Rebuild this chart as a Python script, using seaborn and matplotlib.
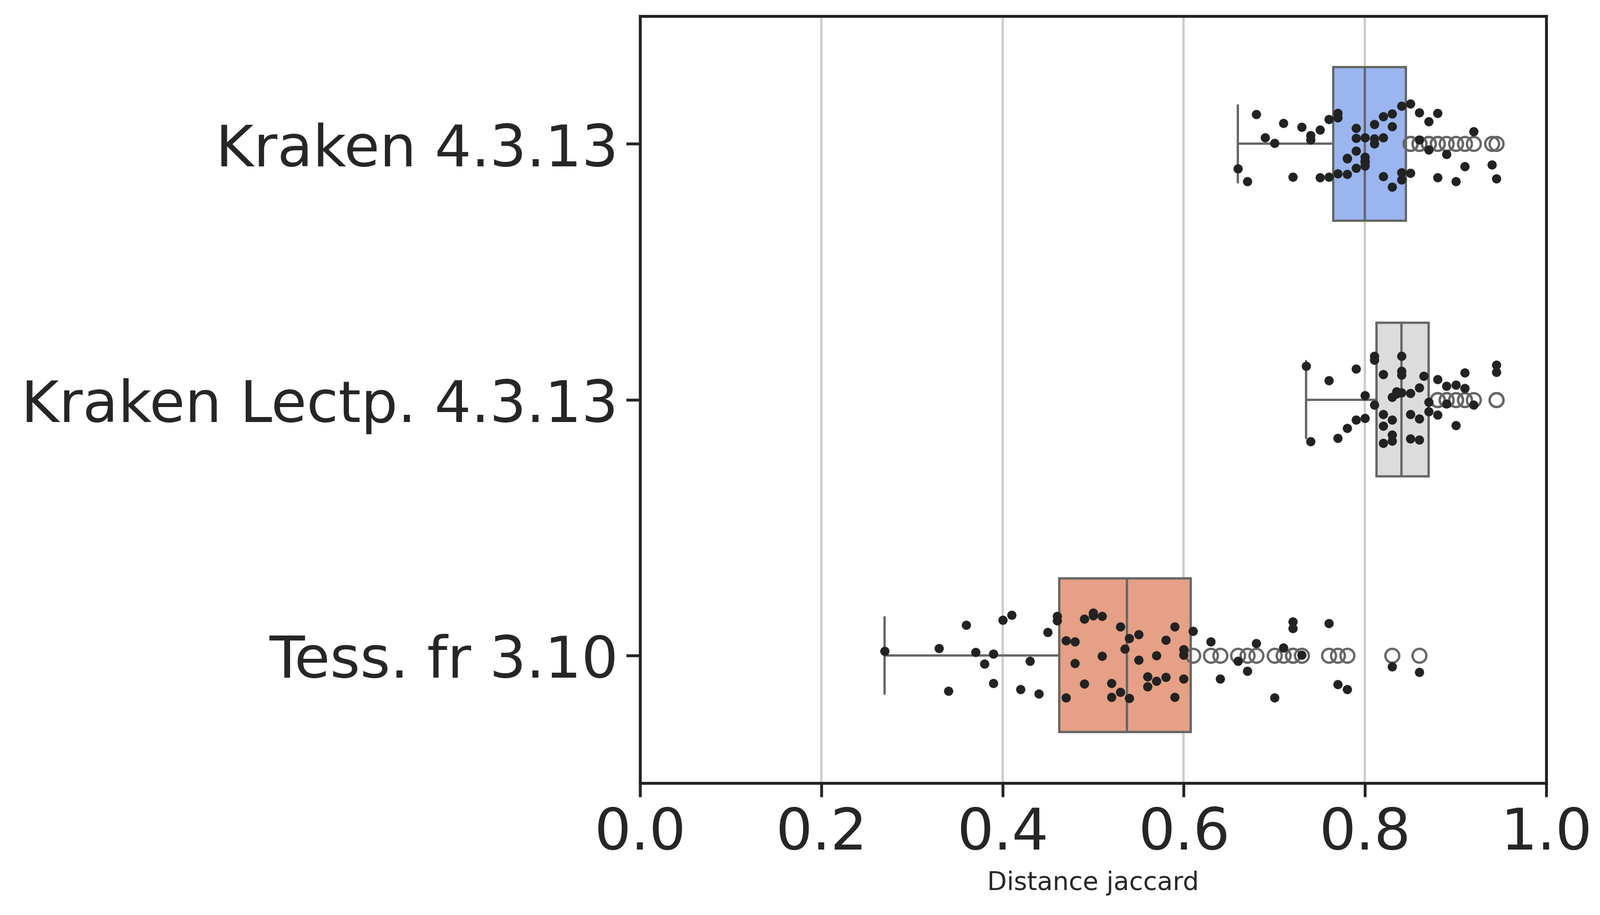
import matplotlib
matplotlib.use("Agg")
import matplotlib.pyplot as plt
import seaborn as sns
import pandas as pd

categories = ["Kraken 4.3.13", "Kraken Lectp. 4.3.13", "Tess. fr 3.10"]
kraken = [0.66, 0.67, 0.68, 0.69, 0.70, 0.71, 0.72, 0.73, 0.74, 0.74, 0.75, 0.75, 0.76, 0.76,
          0.77, 0.77, 0.77, 0.78, 0.78, 0.78, 0.79, 0.79, 0.79, 0.79, 0.80, 0.80, 0.80, 0.80,
          0.80, 0.81, 0.81, 0.81, 0.82, 0.82, 0.82, 0.83, 0.83, 0.83, 0.84, 0.84, 0.84, 0.85,
          0.85, 0.86, 0.86, 0.87, 0.87, 0.88, 0.88, 0.89, 0.90, 0.91, 0.92, 0.94, 0.945]
lectp = [0.735, 0.74, 0.76, 0.77, 0.78, 0.79, 0.79, 0.80, 0.80, 0.81, 0.81, 0.81, 0.82, 0.82,
         0.82, 0.82, 0.83, 0.83, 0.83, 0.83, 0.835, 0.835, 0.84, 0.84, 0.84, 0.84, 0.85, 0.85,
         0.85, 0.86, 0.86, 0.86, 0.865, 0.87, 0.87, 0.88, 0.88, 0.89, 0.89, 0.90, 0.90, 0.91,
         0.91, 0.92, 0.945, 0.945]
tess = [0.27, 0.33, 0.34, 0.36, 0.37, 0.38, 0.39, 0.39, 0.40, 0.41, 0.42, 0.43, 0.44, 0.45,
        0.46, 0.46, 0.47, 0.47, 0.48, 0.48, 0.49, 0.49, 0.50, 0.50, 0.51, 0.51, 0.52, 0.52,
        0.53, 0.53, 0.535, 0.54, 0.54, 0.55, 0.55, 0.56, 0.56, 0.57, 0.57, 0.58, 0.58, 0.59,
        0.59, 0.60, 0.60, 0.60, 0.61, 0.63, 0.64, 0.66, 0.67, 0.68, 0.70, 0.71, 0.72, 0.72,
        0.73, 0.76, 0.77, 0.78, 0.83, 0.86]
colors = ["#9ab5f0", "#dcdcdc", "#e5a085"]

df = pd.DataFrame({
    "cat": [categories[0]] * len(kraken) + [categories[1]] * len(lectp) + [categories[2]] * len(tess),
    "val": kraken + lectp + tess,
})

sns.set_theme(style="ticks")
plt.rcParams["font.family"] = ["DejaVu Sans"]
fig, ax = plt.subplots(figsize=(9.62, 5.503), dpi=300)
fig.subplots_adjust(left=0.4, right=0.966, top=0.982, bottom=0.144)
ax.grid(axis="x", color="#cccccc", linewidth=1)
ax.set_axisbelow(True)
sns.boxplot(data=df, x="val", y="cat", hue="cat", palette=colors, order=categories,
            width=0.6, linecolor="#666666", linewidth=1, legend=False, saturation=1,
            whis=(0, 75),
            flierprops=dict(marker="o", markersize=6, markerfacecolor="none",
                            markeredgecolor="#666666"), ax=ax)
sns.stripplot(data=df, x="val", y="cat", order=categories, color="#222222", size=4,
              jitter=0.17, ax=ax)
ax.set_xlim(0, 1)
ax.set_xticks([0, 0.2, 0.4, 0.6, 0.8, 1.0])
ax.set_xticklabels(["0.0", "0.2", "0.4", "0.6", "0.8", "1.0"])
ax.tick_params(axis="both", labelsize=25, length=6)
ax.set_ylabel("")
ax.set_xlabel("Distance jaccard", fontsize=11)
for s in ax.spines.values():
    s.set_color("#222222")
fig.savefig("out.png", dpi=300)
